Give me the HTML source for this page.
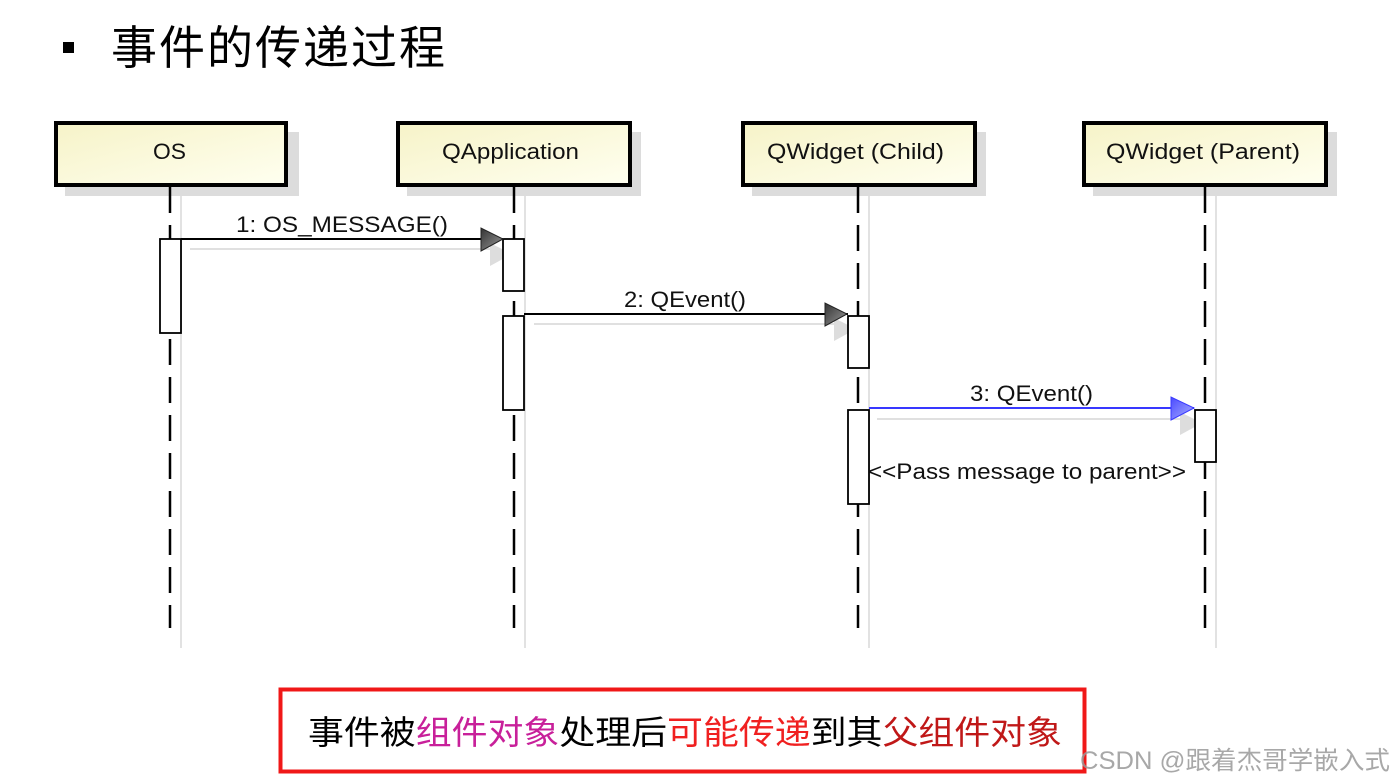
<!DOCTYPE html>
<html><head><meta charset="utf-8"><style>
html,body{margin:0;padding:0;background:#fff;width:1397px;height:783px;overflow:hidden}
svg{display:block}
</style></head><body>
<svg width="1397" height="783" viewBox="0 0 1397 783" xmlns="http://www.w3.org/2000/svg">
<defs>
<linearGradient id="yg" x1="0" y1="0" x2="1" y2="1">
<stop offset="0" stop-color="#f6f3c8"/><stop offset="1" stop-color="#fffff0"/>
</linearGradient>
<linearGradient id="ag" x1="0" y1="0" x2="1" y2="1">
<stop offset="0" stop-color="#333"/><stop offset="1" stop-color="#999"/>
</linearGradient>
<linearGradient id="bg" x1="0" y1="0" x2="1" y2="1">
<stop offset="0" stop-color="#4a4aff"/><stop offset="1" stop-color="#aab0ff"/>
</linearGradient>
</defs>
<!-- title -->
<rect x="63" y="42" width="11" height="11" fill="#000"/>
<text x="111" y="64" font-family="'Liberation Sans','Noto Sans CJK SC',sans-serif" font-size="46" letter-spacing="2" fill="#000">事件的传递过程</text>

<g font-family="'Liberation Sans','DejaVu Sans',sans-serif" font-size="22" fill="#111" lengthAdjust="spacingAndGlyphs">
<rect x="65" y="132" width="234" height="64" fill="#dcdcdc"/>
<rect x="407" y="132" width="234" height="64" fill="#dcdcdc"/>
<rect x="752" y="132" width="234" height="64" fill="#dcdcdc"/>
<rect x="1093" y="132" width="244" height="64" fill="#dcdcdc"/>
<g stroke="#e2e2e2" stroke-width="2">
<line x1="181" y1="196" x2="181" y2="648"/>
<line x1="525" y1="196" x2="525" y2="648"/>
<line x1="869" y1="196" x2="869" y2="648"/>
<line x1="1216" y1="196" x2="1216" y2="648"/>
</g>
<rect x="56" y="123" width="230" height="62" fill="url(#yg)" stroke="#000" stroke-width="4"/>
<rect x="398" y="123" width="232" height="62" fill="url(#yg)" stroke="#000" stroke-width="4"/>
<rect x="743" y="123" width="232" height="62" fill="url(#yg)" stroke="#000" stroke-width="4"/>
<rect x="1084" y="123" width="242" height="62" fill="url(#yg)" stroke="#000" stroke-width="4"/>
<text x="153" y="159" textLength="33" lengthAdjust="spacingAndGlyphs">OS</text>
<text x="442" y="159" textLength="137" lengthAdjust="spacingAndGlyphs">QApplication</text>
<text x="767" y="159" textLength="177" lengthAdjust="spacingAndGlyphs">QWidget (Child)</text>
<text x="1106" y="159" textLength="194" lengthAdjust="spacingAndGlyphs">QWidget (Parent)</text>
<g stroke="#000" stroke-width="2.5" stroke-dasharray="26 12">
<line x1="170" y1="187" x2="170" y2="628"/>
<line x1="514" y1="187" x2="514" y2="628"/>
<line x1="858" y1="187" x2="858" y2="628"/>
<line x1="1205" y1="187" x2="1205" y2="628"/>
</g>
<g stroke="#e0e0e0" stroke-width="2">
<line x1="190" y1="249" x2="495" y2="249"/>
<line x1="534" y1="324" x2="840" y2="324"/>
<line x1="877" y1="419" x2="1186" y2="419"/>
</g>
<polygon points="490,243 490,266 512,254" fill="#ddd"/>
<polygon points="834,318 834,341 856,329" fill="#ddd"/>
<polygon points="1180,412 1180,435 1202,423" fill="#ddd"/>
<g fill="#fff" stroke="#000" stroke-width="1.8">
<rect x="160" y="239" width="21" height="94"/>
<rect x="503" y="239" width="21" height="52"/>
<rect x="503" y="316" width="21" height="94"/>
<rect x="848" y="316" width="21" height="52"/>
<rect x="848" y="410" width="21" height="94"/>
<rect x="1195" y="410" width="21" height="52"/>
</g>
<line x1="181" y1="239" x2="503" y2="239" stroke="#000" stroke-width="2"/>
<polygon points="481,228 481,251 503,239" fill="url(#ag)" stroke="#222" stroke-width="1"/>
<line x1="524" y1="314" x2="848" y2="314" stroke="#000" stroke-width="2"/>
<polygon points="825,303 825,326 847,314" fill="url(#ag)" stroke="#222" stroke-width="1"/>
<line x1="869" y1="408" x2="1194" y2="408" stroke="#3838ff" stroke-width="2"/>
<polygon points="1171,397 1171,420 1194,408" fill="url(#bg)" stroke="#3a3aff" stroke-width="1"/>
<text x="236" y="232" textLength="212" lengthAdjust="spacingAndGlyphs">1: OS_MESSAGE()</text>
<text x="624" y="307" textLength="122" lengthAdjust="spacingAndGlyphs">2: QEvent()</text>
<text x="970" y="401" textLength="123" lengthAdjust="spacingAndGlyphs">3: QEvent()</text>
<text x="868" y="479" textLength="318" lengthAdjust="spacingAndGlyphs">&lt;&lt;Pass message to parent&gt;&gt;</text>
</g>
<rect x="280.5" y="689.5" width="804" height="82" fill="#fff" stroke="#f01818" stroke-width="4"/>
<text x="308" y="744" font-family="'Liberation Sans','Noto Sans CJK SC',sans-serif" font-size="33" textLength="754" lengthAdjust="spacingAndGlyphs" fill="#000">事件被<tspan fill="#c8209a">组件对象</tspan>处理后<tspan fill="#f02020">可能传递</tspan>到其<tspan fill="#c01818">父组件对象</tspan></text>
<text x="1080" y="769" font-family="'Liberation Sans','Noto Sans CJK SC',sans-serif" font-size="25" textLength="310" lengthAdjust="spacingAndGlyphs" fill="#999" opacity="0.85">CSDN @跟着杰哥学嵌入式</text>
</svg>
</body></html>
